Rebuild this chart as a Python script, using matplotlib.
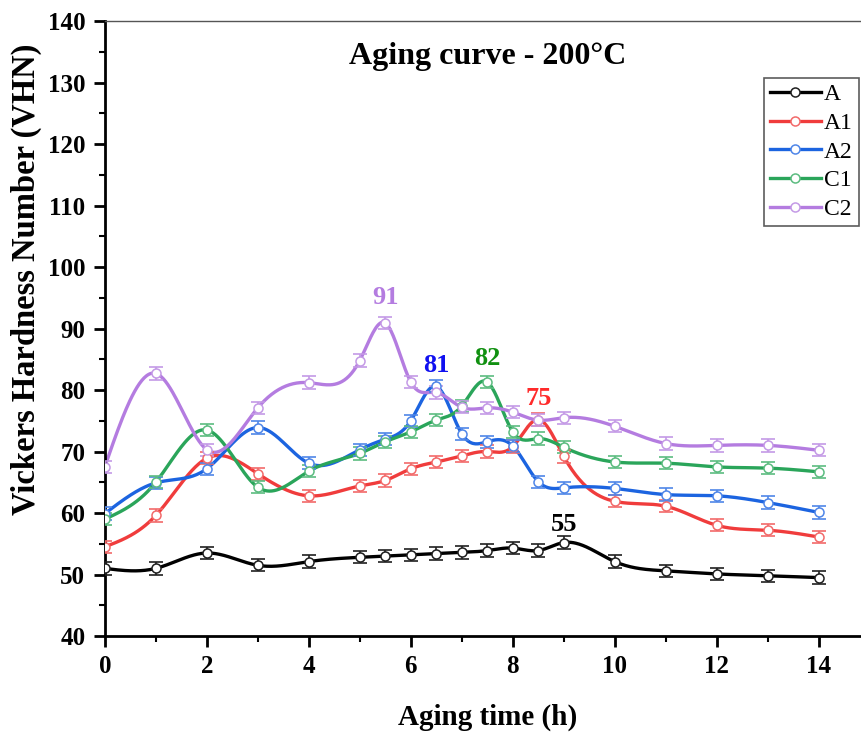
import numpy as np
import matplotlib
matplotlib.use('Agg')
import matplotlib.pyplot as plt
from matplotlib.ticker import MultipleLocator

# data
hours = [0, 1, 2, 3, 4, 5, 5.5, 6, 6.5, 7, 7.5, 8, 8.5, 9, 10, 11, 12, 13, 14]
vhn_A = [51.0, 51.0, 53.5, 51.5, 52.1, 52.8, 53.0, 53.2, 53.4, 53.6, 53.9, 54.3, 53.9, 55.2, 52.1, 50.6, 50.1, 49.8, 49.5]
vhn_A1 = [54.5, 59.6, 68.9, 66.4, 62.8, 64.4, 65.3, 67.2, 68.3, 69.3, 70.0, 70.8, 75.2, 69.2, 61.9, 61.1, 58.0, 57.2, 56.1]
vhn_A2 = [59.9, 64.9, 67.2, 73.9, 68.1, 70.3, 72.0, 75.0, 80.6, 72.9, 71.6, 70.9, 65.1, 64.1, 64.0, 63.0, 62.8, 61.7, 60.1]
vhn_C1 = [59.0, 65.0, 73.5, 64.2, 66.8, 69.7, 71.6, 73.2, 75.1, 77.4, 81.3, 73.2, 72.1, 70.7, 68.3, 68.1, 67.5, 67.3, 66.7]
vhn_C2 = [67.5, 82.7, 70.3, 77.1, 81.2, 84.8, 90.9, 81.3, 79.6, 77.2, 77.1, 76.4, 75.1, 75.5, 74.1, 71.3, 71.0, 71.0, 70.2]
err = 1.0

series = ['A', 'A1', 'A2', 'C1', 'C2']
values = [vhn_A, vhn_A1, vhn_A2, vhn_C1, vhn_C2]
line_colors = ['#000000', '#f03c3c', '#1c64e0', '#2aa55a', '#b47ce0']
light_colors = ['#202020', '#f26a6a', '#4f86e8', '#5cbc80', '#c49ae6']

# peak labels
peak_text = ['55', '75', '81', '82', '91']
peak_x = [9, 8.5, 6.5, 7.5, 5.5]
peak_color = ['#000000', '#ff2a2a', '#1010f0', '#109010', '#b47ce0']
peak_gap = [13, 15, 15, 17, 18]   # points above the marker


def spline(x, y, n=600):
    # natural cubic spline, just for the smooth connecting line
    x = np.asarray(x, float)
    y = np.asarray(y, float)
    h = np.diff(x)
    m = len(x)
    A = np.zeros((m, m))
    b = np.zeros(m)
    A[0, 0] = 1
    A[-1, -1] = 1
    for i in range(1, m - 1):
        A[i, i - 1] = h[i - 1]
        A[i, i] = 2 * (h[i - 1] + h[i])
        A[i, i + 1] = h[i]
        b[i] = 6 * ((y[i + 1] - y[i]) / h[i] - (y[i] - y[i - 1]) / h[i - 1])
    M = np.linalg.solve(A, b)
    xs = np.linspace(x[0], x[-1], n)
    idx = np.clip(np.searchsorted(x, xs) - 1, 0, m - 2)
    x0, x1 = x[idx], x[idx + 1]
    hh = x1 - x0
    t0 = x1 - xs
    t1 = xs - x0
    ys = (M[idx] * t0 ** 3 + M[idx + 1] * t1 ** 3) / (6 * hh) \
        + (y[idx] / hh - M[idx] * hh / 6) * t0 + (y[idx + 1] / hh - M[idx + 1] * hh / 6) * t1
    return xs, ys


plt.rcParams['font.family'] = ['Liberation Serif', 'DejaVu Serif']

fig = plt.figure(figsize=(8.61, 7.32), dpi=100)
ax = fig.add_axes([0.1217, 0.1311, 0.8885, 0.8402])

handles = []
for name, v, c, lc in zip(series, values, line_colors, light_colors):
    xs, ys = spline(hours, v)
    ax.plot(xs, ys, color=c, lw=2.4, zorder=2)
    ax.errorbar(hours, v, yerr=err, fmt='none', ecolor=lc, elinewidth=1.2,
                capsize=5, capthick=1.2, zorder=3)
    ax.plot(hours, v, 'o', ms=6.5, mfc='white', mec=lc, mew=1.1, zorder=4)
    h, = ax.plot([], [], color=c, lw=2.4, marker='o', ms=6.5, mfc='white', mec=lc, mew=1.1)
    handles.append(h)

for t, px, pc, g, v in zip(peak_text, peak_x, peak_color, peak_gap, values):
    py = v[hours.index(px)]
    ax.annotate(t, (px, py), xytext=(0, g), textcoords='offset points',
                ha='center', va='center', color=pc, fontsize=19, fontweight='bold')

ax.set_xlim(0, 15)
ax.set_ylim(40, 140)
ax.xaxis.set_major_locator(MultipleLocator(2))
ax.xaxis.set_minor_locator(MultipleLocator(1))
ax.yaxis.set_major_locator(MultipleLocator(10))
ax.yaxis.set_minor_locator(MultipleLocator(5))
ax.set_xticks(range(0, 15, 2))
ax.tick_params(which='major', direction='out', length=8, width=2, labelsize=18, pad=6)
ax.tick_params(which='minor', direction='out', length=4, width=1.5)
ax.tick_params(top=False, right=False, which='both')
for lab in ax.get_xticklabels() + ax.get_yticklabels():
    lab.set_fontweight('bold')

ax.spines['left'].set_linewidth(2)
ax.spines['bottom'].set_linewidth(2)
ax.spines['top'].set_linewidth(1)
ax.spines['top'].set_color('#555555')
ax.spines['right'].set_visible(False)

ax.set_xlabel('Aging time (h)', fontsize=21, fontweight='bold', labelpad=18)
fig.text(26 / 861, 1 - 279 / 732, 'Vickers Hardness Number (VHN)', rotation=90,
         ha='center', va='center', fontsize=23.5, fontweight='bold')
ax.text(0.5, 0.942, 'Aging curve - 200°C', transform=ax.transAxes, ha='center', va='center',
        fontsize=23, fontweight='bold')

leg = fig.legend(handles, series, loc='upper left', bbox_to_anchor=(764 / 861, 1 - 78 / 732),
                 fontsize=17, frameon=True, fancybox=False, edgecolor='#333333',
                 handlelength=2.15, labelspacing=0.3, borderpad=0.25, handletextpad=0.15,
                 borderaxespad=0)
leg.get_frame().set_linewidth(1.2)

fig.savefig('out.png', dpi=100)
